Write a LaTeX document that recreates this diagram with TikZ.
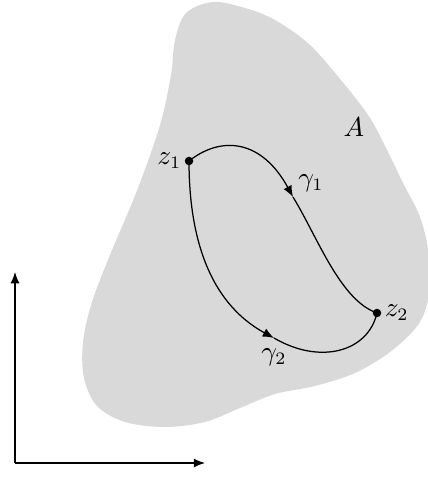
\documentclass[tikz,border=0pt]{standalone}
\usetikzlibrary{arrows.meta}
\begin{document}
\begin{tikzpicture}[x=0.4pt,y=-0.4pt,
  curve/.style={line width=0.5pt},
  arr/.style={-{Latex[length=4.5pt,width=3.6pt]}},
  dot/.style={circle,fill=black,inner sep=0pt,minimum size=3.4pt},
  lbl/.style={inner sep=1pt,font=\fontsize{10.5}{12}\selectfont}]
\useasboundingbox (0,0) rectangle (427,477);
\fill[black!15] plot[smooth cycle, tension=0.55] coordinates {
 (213,2) (245,8) (275,20) (310,45) (345,85) (370,118) (387,150) (403,183) (420,217)
 (429,255) (429,295) (418,325) (390,352) (355,373) (315,386) (275,394) (240,408)
 (205,422) (165,427) (125,422) (97,406) (84,378) (83,342) (92,302) (110,255)
 (138,188) (160,125) (171,75) (175,40) (186,13)};
\node[dot] (z1) at (189,161) {};
\node[dot] (z2) at (377,313) {};
\coordinate (m1) at (293,197);
\coordinate (m2) at (274,338);
\draw[curve,arr] (z1.center) .. controls (222,135) and (262,140) .. (m1);
\draw[curve] (m1) .. controls (318,238) and (340,300) .. (z2.center);
\draw[curve,arr] (z1.center) .. controls (189,235) and (208,302) .. (m2);
\draw[curve] (m2) .. controls (320,365) and (368,352) .. (z2.center);
\node[lbl,anchor=east] (lz1) at (z1.west) {$z_1$};
\node[lbl,anchor=west] (lz2) at (z2.east) {$z_2$};
\node[lbl] (g1) at (311,183) {$\gamma_1$};
\node[lbl] (g2) at (274,357) {$\gamma_2$};
\node[lbl] (A) at (354,127) {$A$};
\coordinate (o) at (15,463);
\coordinate (yt) at (15,272);
\coordinate (xt) at (205,463);
\draw[curve,arr] (o) -- (yt);
\draw[curve,arr] (o) -- (xt);
\end{tikzpicture}
\end{document}
